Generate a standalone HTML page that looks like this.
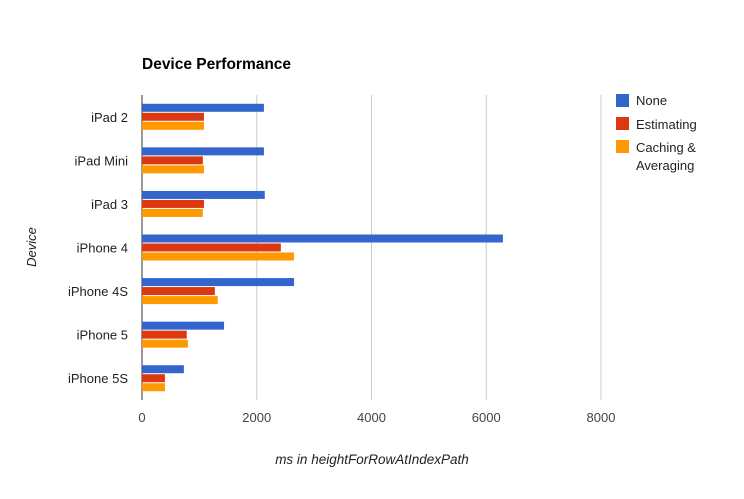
<!DOCTYPE html>
<html><head><meta charset="utf-8"><style>
body{margin:0;background:#fff;font-family:"Liberation Sans",Arial,sans-serif}
svg text{font-family:"Liberation Sans",Arial,sans-serif}
</style></head><body>
<svg id="chart" width="744" height="494" xmlns="http://www.w3.org/2000/svg">
<rect width="744" height="494" fill="#fff"/>
<text x="142" y="69" font-size="15.5" font-weight="bold" fill="#000">Device Performance</text>
<g id="grid"></g><g id="bars"></g><g id="ylabels"></g><g id="xlabels"></g>
<text transform="translate(36,247) rotate(-90)" text-anchor="middle" font-size="13" font-style="italic" fill="#222">Device</text>
<text x="372" y="464" text-anchor="middle" font-size="13.5" font-style="italic" fill="#222">ms in heightForRowAtIndexPath</text>
<g>
<g><rect x="616" y="94" width="13" height="13" fill="#3366cc"/><text x="636" y="105" font-size="13" fill="#222">None</text></g>
<g><rect x="616" y="117" width="13" height="13" fill="#dc3912"/><text x="636" y="129" font-size="13" fill="#222">Estimating</text></g>
<g><rect x="616" y="140" width="13" height="13" fill="#ff9900"/><text x="636" y="152" font-size="13" fill="#222">Caching &amp;</text><text x="636" y="170" font-size="13" fill="#222">Averaging</text></g>
</g>
</svg>
<script>
const categories=["iPad 2","iPad Mini","iPad 3","iPhone 4","iPhone 4S","iPhone 5","iPhone 5S"];
const noneVals=[2125,2125,2140,6290,2650,1430,730];
const estimatingVals=[1080,1060,1080,2420,1270,780,400];
const cachingVals=[1080,1080,1060,2650,1320,800,400];
const xTicks=[0,2000,4000,6000,8000];
const NS="http://www.w3.org/2000/svg";
const x0=142,x1=601,xMax=8000,yTop=95,yBottom=400;
const xs=v=>x0+v/xMax*(x1-x0);
const band=(yBottom-yTop)/categories.length;
function mk(t,a,p){const e=document.createElementNS(NS,t);for(const k in a)e.setAttribute(k,a[k]);p.appendChild(e);return e;}
const grid=document.getElementById('grid'),bars=document.getElementById('bars'),yl=document.getElementById('ylabels'),xl=document.getElementById('xlabels');
xTicks.forEach(t=>{
 const l=mk('line',{x1:xs(t),x2:xs(t),y1:yTop,y2:yBottom,stroke:t===0?'#333':'#ccc','stroke-width':1},grid);
 
 
 const tx=mk('text',{x:xs(t),y:422,'text-anchor':'middle','font-size':13,fill:'#444'},xl);tx.textContent=t;
 
 
});
const series=[[noneVals,'#3366cc','none'],[estimatingVals,'#dc3912','estimating'],[cachingVals,'#ff9900','caching']];
categories.forEach((c,i)=>{
 const cy=yTop+band*(i+0.5);
 const t=mk('text',{x:128,y:cy+5,'text-anchor':'end','font-size':13,fill:'#222'},yl);t.textContent=c;
 
 
 series.forEach((s,j)=>{
  const y=cy-13+j*9;
  const r=mk('rect',{x:x0,y:y,width:xs(s[0][i])-x0,height:8,fill:s[1]},bars);
  
  
 });
});
</script>
</body></html>
